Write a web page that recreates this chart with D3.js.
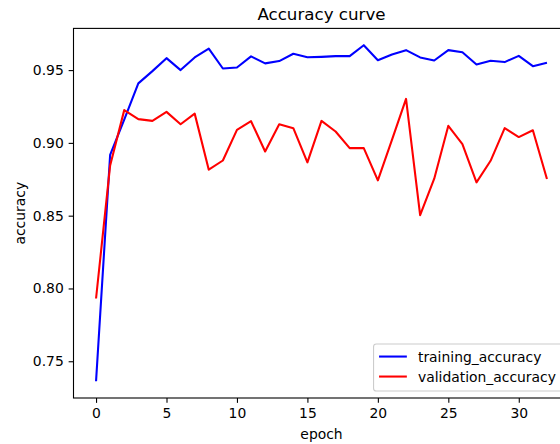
<!DOCTYPE html>
<html>
<head>
<meta charset="utf-8">
<script src="https://cdn.jsdelivr.net/npm/d3@7"></script>
<style>
html,body{margin:0;padding:0;background:#fff;overflow:hidden;}
text{font-family:"DejaVu Sans",sans-serif;fill:#000;}
</style>
</head>
<body>
<svg id="chart" width="560" height="444"></svg>
<script>
const epochs = d3.range(0, 33);
const trainingAccuracy = [0.7363, 0.8918, 0.9160, 0.9409, 0.9493, 0.9582, 0.9500, 0.9587, 0.9648, 0.9511,
  0.9518, 0.9594, 0.9546, 0.9562, 0.9612, 0.9588, 0.9591, 0.9596, 0.9596, 0.9671,
  0.9568, 0.9607, 0.9637, 0.9587, 0.9566, 0.9637, 0.9623, 0.9539, 0.9564, 0.9555,
  0.9598, 0.9527, 0.9550];
const validationAccuracy = [0.7931, 0.8845, 0.9225, 0.9163, 0.9151, 0.9213, 0.9128, 0.9201, 0.8816, 0.8879,
  0.9089, 0.9149, 0.8941, 0.9128, 0.9101, 0.8866, 0.9151, 0.9078, 0.8964, 0.8964,
  0.8743, 0.9021, 0.9302, 0.8503, 0.8754, 0.9117, 0.8992, 0.8729, 0.8877, 0.9101,
  0.9040, 0.9087, 0.8752];
const xTicks = [0, 5, 10, 15, 20, 25, 30];
const yTicks = [0.75, 0.80, 0.85, 0.90, 0.95];
const seriesNames = ["training_accuracy", "validation_accuracy"];
const seriesColors = ["#0000ff", "#ff0000"];
const titleText = "Accuracy curve";
const xLabel = "epoch";
const yLabel = "accuracy";

const svg = d3.select("#chart");
const L = 73.5, R = 569.5, T = 28.4, B = 398;

const xMin = d3.min(epochs), xMax = d3.max(epochs);
const xPad = (xMax - xMin) * 0.05;
const x = d3.scaleLinear().domain([xMin - xPad, xMax + xPad]).range([L, R]);
const all = trainingAccuracy.concat(validationAccuracy);
const yMin = d3.min(all), yMax = d3.max(all);
const yPad = (yMax - yMin) * 0.05;
const y = d3.scaleLinear().domain([yMin - yPad, yMax + yPad]).range([B, T]);

const tickLen = 4.86, fs = 13.9;

// Lines
const line = d3.line().x((d, i) => x(epochs[i])).y(d => y(d));
[trainingAccuracy, validationAccuracy].forEach((s, k) => {
  svg.append("path").datum(s).attr("d", line)
    .attr("fill", "none").attr("stroke", seriesColors[k])
    .attr("stroke-width", 2.08).attr("stroke-linejoin", "round").attr("stroke-linecap", "butt");
});

// X axis
const xAxis = d3.axisBottom(x).tickValues(xTicks).tickFormat(d3.format("d"))
  .tickSize(tickLen).tickPadding(4.86);
const gx = svg.append("g").attr("transform", `translate(0,${B})`).call(xAxis);
gx.select(".domain").remove();
gx.selectAll("line").attr("stroke", "#000").attr("stroke-width", 1.1);
gx.selectAll("text").attr("font-size", fs).attr("font-family", "DejaVu Sans").attr("fill", "#000");

// Y axis
const yAxis = d3.axisLeft(y).tickValues(yTicks).tickFormat(d3.format(".2f"))
  .tickSize(tickLen).tickPadding(4.86);
const gy = svg.append("g").attr("transform", `translate(${L},0)`).call(yAxis);
gy.select(".domain").remove();
gy.selectAll("line").attr("stroke", "#000").attr("stroke-width", 1.1);
gy.selectAll("text").attr("font-size", fs).attr("font-family", "DejaVu Sans").attr("fill", "#000");

// Spines
svg.append("rect").attr("x", L).attr("y", T).attr("width", R - L).attr("height", B - T)
  .attr("fill", "none").attr("stroke", "#000").attr("stroke-width", 1.1);

// Title and labels
svg.append("text").attr("x", (L + R) / 2).attr("y", 20).attr("text-anchor", "middle")
  .attr("font-size", 16.7).text(titleText);
svg.append("text").attr("x", (L + R) / 2).attr("y", 439).attr("text-anchor", "middle")
  .attr("font-size", fs).text(xLabel);
svg.append("text").attr("transform", `translate(25,${(T + B) / 2}) rotate(-90)`)
  .attr("text-anchor", "middle").attr("font-size", fs).text(yLabel);

// Legend
const legW = 189, legH = 47;
const legR = R - 6.95, legB = B - 6.95;
const legX = legR - legW, legY = legB - legH;
svg.append("rect").attr("x", legX).attr("y", legY).attr("width", legW).attr("height", legH)
  .attr("rx", 2.8).attr("fill", "#fff").attr("fill-opacity", 0.8)
  .attr("stroke", "#cccccc").attr("stroke-width", 1.1);
seriesNames.forEach((n, k) => {
  const cy = legY + 12.5 + k * 20;
  svg.append("line").attr("x1", legX + 5.5).attr("x2", legX + 5.5 + 27.8)
    .attr("y1", cy).attr("y2", cy).attr("stroke", seriesColors[k]).attr("stroke-width", 2.08);
  svg.append("text").attr("x", legX + 5.5 + 27.8 + 11.1).attr("y", cy + 5)
    .attr("font-size", fs).text(n);
});
</script>
</body>
</html>
